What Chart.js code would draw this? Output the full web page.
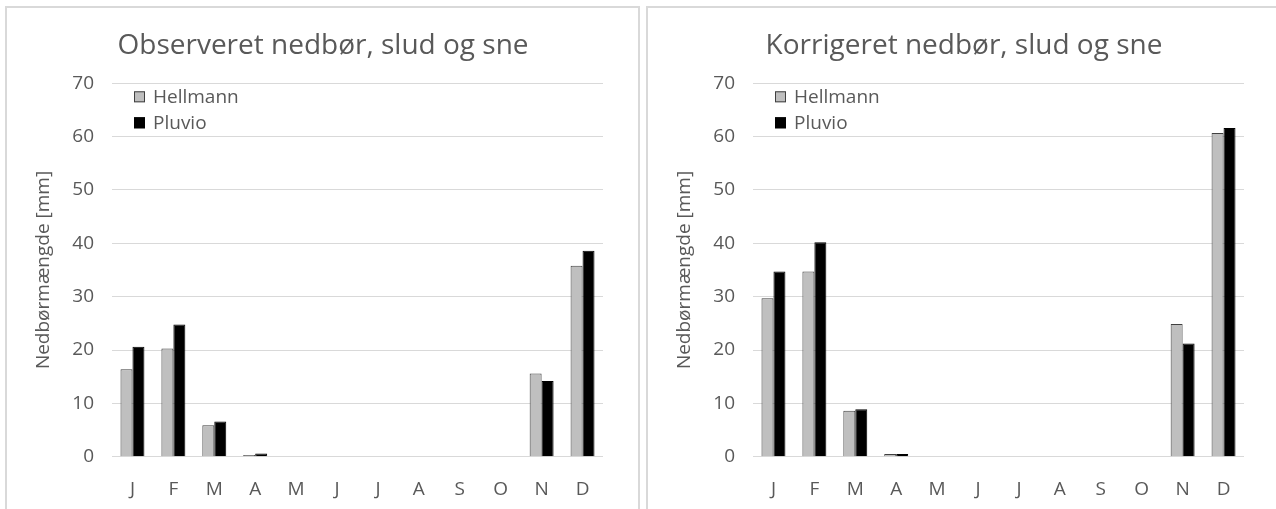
<!DOCTYPE html>
<html>
<head>
<meta charset="utf-8">
<script src="https://cdn.jsdelivr.net/npm/chart.js@4/dist/chart.umd.min.js"></script>
<style>
    body { margin: 0; width: 1276px; height: 509px; overflow: hidden; background: #fff; }
    .panel { position: absolute; top: 6px; height: 600px; border: 2px solid #d9d9d9; box-sizing: border-box; }
    canvas { position: absolute; top: 9px; }
</style>
</head>
<body>
<div class="panel" style="left: 5px; width: 635px;"></div>
<div class="panel" style="left: 646px; width: 700px;"></div>
<canvas id="observedChart" style="left: 8px;"></canvas>
<canvas id="correctedChart" style="left: 649px;"></canvas>
<script>
const months = ["J", "F", "M", "A", "M", "J", "J", "A", "S", "O", "N", "D"];
const seriesNames = ["Hellmann", "Pluvio"];

// Observeret nedbør, slud og sne [mm]
const observedHellmann = [16.4, 20.3, 5.9, 0.3, null, null, null, null, null, null, 15.6, 35.8];
const observedPluvio = [20.6, 24.8, 6.6, 0.6, null, null, null, null, null, null, 14.2, 38.6];

// Korrigeret nedbør, slud og sne [mm]
const correctedHellmann = [29.7, 34.7, 8.6, 0.5, null, null, null, null, null, null, 24.9, 60.7];
const correctedPluvio = [34.7, 40.2, 8.9, 0.5, null, null, null, null, null, null, 21.2, 61.6];

const yTicks = [0, 10, 20, 30, 40, 50, 60, 70];

const textColor = "#595959";
const fontFamily = "'Open Sans', sans-serif";

// legend drawn inside the plot area, top left
const innerLegend = {
    id: "innerLegend",
    afterDraw(chart) {
        const ctx = chart.ctx;
        const area = chart.chartArea;
        ctx.save();
        ctx.font = "19px " + fontFamily;
        ctx.textBaseline = "middle";
        chart.data.datasets.forEach((ds, i) => {
            const x = area.left + 22;
            const y = area.top + 14 + i * 26;
            ctx.fillStyle = ds.backgroundColor;
            ctx.fillRect(x, y - 6, 11, 11);
            ctx.strokeStyle = ds.borderColor;
            ctx.lineWidth = 1;
            ctx.strokeRect(x + 0.5, y - 5.5, 10, 10);
            ctx.fillStyle = textColor;
            ctx.fillText(ds.label, x + 19, y);
        });
        ctx.restore();
    }
};

function makeChart(id, title, hellmann, pluvio, width) {
    const canvas = document.getElementById(id);
    canvas.width = width;
    canvas.height = 500;
    const ctx = canvas.getContext("2d");
    return new Chart(ctx, {
        type: "bar",
        data: {
            labels: months,
            datasets: [
                {
                    label: seriesNames[0],
                    data: hellmann,
                    backgroundColor: "#bfbfbf",
                    borderColor: "#404040",
                    borderWidth: 1
                },
                {
                    label: seriesNames[1],
                    data: pluvio,
                    backgroundColor: "#000000",
                    borderColor: "#000000",
                    borderWidth: 1
                }
            ]
        },
        options: {
            responsive: false,
            animation: false,
            categoryPercentage: 0.585,
            barPercentage: 1,
            layout: { padding: { left: 35, right: width - 595, top: 0, bottom: 0 } },
            plugins: {
                legend: { display: false },
                tooltip: { enabled: false },
                title: {
                    display: true,
                    text: title,
                    color: textColor,
                    font: { family: fontFamily, size: 28, weight: "normal", lineHeight: 1.2 },
                    padding: { top: 20, bottom: 20.7 }
                }
            },
            scales: {
                x: {
                    grid: { display: false, drawTicks: false },
                    border: { display: false },
                    ticks: { color: textColor, padding: 21, font: { family: fontFamily, size: 19 } },
                    afterFit: axis => { axis.height = 52.3; }
                },
                y: {
                    min: 0,
                    max: 70,
                    afterBuildTicks: axis => { axis.ticks = yTicks.map(v => ({ value: v })); },
                    grid: { color: "#d9d9d9", lineWidth: 1, drawTicks: false },
                    border: { display: false },
                    ticks: { color: textColor, padding: 18, font: { family: fontFamily, size: 19 } },
                    title: {
                        display: true,
                        text: "Nedbørmængde [mm]",
                        color: textColor,
                        font: { family: fontFamily, size: 19 },
                        padding: { top: -11, bottom: 0 }
                    },
                    afterFit: axis => { axis.width = 69; }
                }
            }
        },
        plugins: [innerLegend]
    });
}

makeChart("observedChart", "Observeret nedbør, slud og sne", observedHellmann, observedPluvio, 628);
makeChart("correctedChart", "Korrigeret nedbør, slud og sne", correctedHellmann, correctedPluvio, 627);
</script>
</body>
</html>
